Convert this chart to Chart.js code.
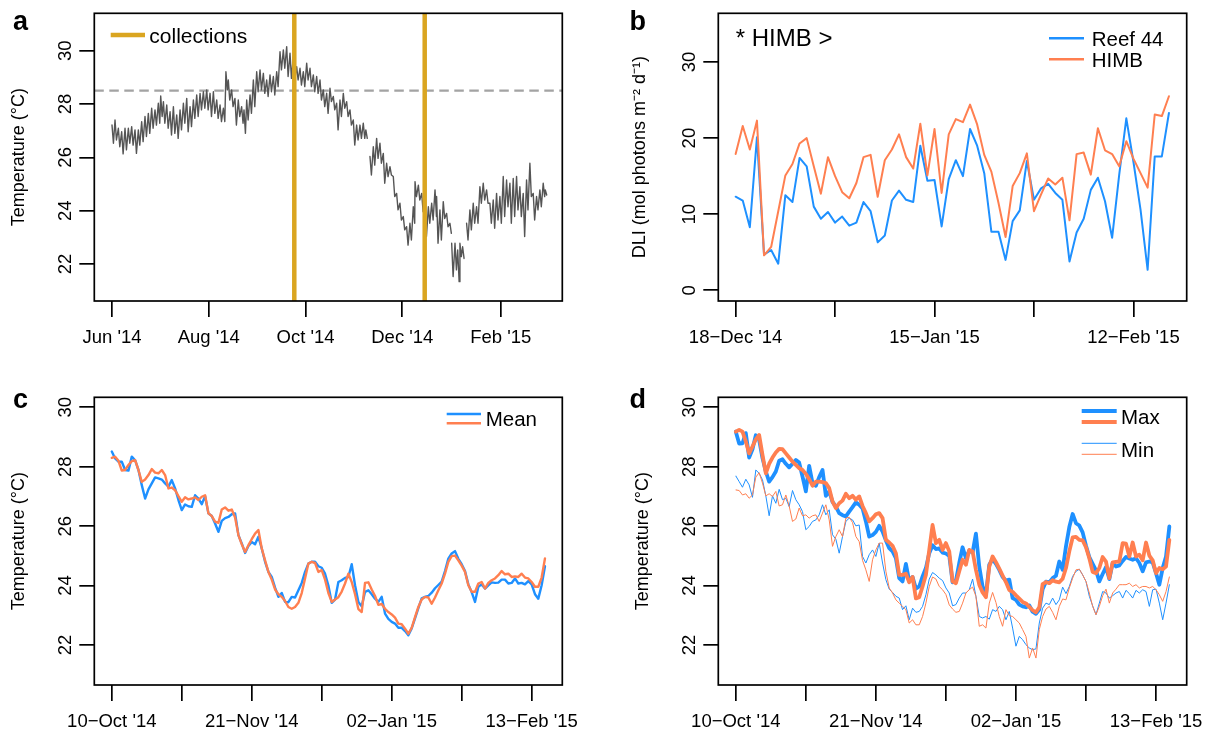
<!DOCTYPE html>
<html><head><meta charset="utf-8">
<script src="https://cdn.jsdelivr.net/npm/chart.js@4/dist/chart.umd.min.js"></script>
<style>
html,body{margin:0;padding:0;background:#fff;}
#wrap{position:relative;width:1209px;height:734px;overflow:hidden;background:#fff;}
canvas{position:absolute;left:0;top:0;}
</style></head><body>
<div id="wrap">
<canvas id="ca" width="1209" height="734"></canvas>
<canvas id="cb" width="1209" height="734"></canvas>
<canvas id="cc" width="1209" height="734"></canvas>
<canvas id="cd" width="1209" height="734"></canvas>
</div>
<script>
// ---------- Panel a: Reef 44 temperature record (days since 1 Jun 2014), envelope readings ----------
const tempDay = [0.0,1.9,4.0,6.1,8.2,10.3,12.4,14.5,16.6,18.7,20.8,22.9,25.0,27.1,29.2,30.7,32.4,34.5,36.6,38.7,40.8,42.9,45.0,47.1,49.2,51.3,53.4,55.5,57.6,59.7,61.8,63.9,66.0,68.1,70.2,71.8,73.3,75.4,77.5,79.6,81.7,83.2,84.9,87.0,89.1,91.2,93.3,95.4,97.5,99.6,101.7,103.8,105.9,108.0,110.1,112.2,114.3,116.4,118.5,120.6,122.7,124.8,126.9,129.0,131.1,133.2,135.3,137.4,139.5,141.6,143.7,145.8,147.9,150.0,152.1,154.2,156.3,158.4,160.0,null,162.6,164.7,166.8,168.9,171.0,173.1,175.2,177.3,179.4,181.5,183.6,185.7,187.8,189.9,191.0,193.1,195.2,197.3,199.4,201.5,203.6,204.6,206.7,208.8,210.9,213.0,null,214.1,216.2,217.9,219.3,221.0,null,223.5,225.6,227.7,229.8,231.9,234.0,236.1,238.2,240.3,242.4,244.5,246.6,248.7,250.8,252.9,255.0,257.1,259.2,261.3,263.4,265.5,267.6,269.7,271.8,273.1];
const tempHigh = [27.21,27.40,27.09,26.96,27.09,27.09,27.15,27.03,27.03,27.34,27.53,27.65,27.84,27.78,28.03,28.30,28.09,27.96,27.71,27.90,27.59,27.78,28.03,28.21,27.90,28.15,28.34,28.40,28.46,28.53,28.40,28.46,28.15,27.96,27.84,29.21,28.90,28.53,28.21,28.15,27.90,27.78,28.15,28.34,28.90,29.21,29.28,29.15,28.90,29.09,29.03,29.21,29.96,30.03,30.15,29.90,29.78,29.40,29.34,29.21,29.53,29.34,29.09,29.03,28.90,28.53,28.40,28.59,28.28,28.03,28.15,28.40,28.09,27.78,27.40,27.21,27.21,27.28,27.03,null,26.03,26.40,26.71,26.53,26.15,25.78,25.65,25.28,24.65,24.28,23.78,23.40,23.53,24.15,25.09,24.96,24.65,24.03,24.15,24.28,24.78,24.53,24.03,24.34,23.90,23.53,null,22.78,22.78,22.53,22.78,22.65,null,23.53,24.03,24.28,24.15,24.90,25.03,24.78,24.28,24.40,24.65,24.53,25.28,25.15,25.03,25.21,25.28,24.90,24.65,25.15,25.78,24.65,24.53,24.78,25.03,24.78];
const tempLow = [26.53,26.65,26.40,26.13,26.28,26.53,26.46,26.15,26.46,26.59,26.78,26.90,27.09,27.21,27.28,27.53,27.28,27.09,26.84,26.90,26.71,27.03,27.28,26.96,27.15,27.46,27.53,27.78,27.84,27.78,27.53,27.65,27.46,27.34,27.34,28.53,28.15,27.90,27.21,27.53,27.28,26.90,27.40,27.65,27.90,28.46,28.53,28.40,28.28,28.46,28.34,28.65,29.28,29.34,29.03,28.96,28.90,28.90,28.71,28.65,28.90,28.65,28.46,28.40,28.15,27.90,27.65,28.09,27.78,27.03,27.53,27.84,27.53,27.21,26.46,26.65,26.71,26.71,26.71,null,25.34,25.71,25.96,25.78,25.03,25.28,25.34,24.53,24.03,23.65,23.28,22.71,22.90,23.53,24.53,24.40,23.96,23.03,23.53,23.65,23.78,22.78,22.90,23.71,23.40,23.15,null,21.53,21.78,21.34,22.28,22.21,null,22.90,23.28,23.53,23.53,24.28,24.40,24.28,23.53,23.34,23.65,23.53,23.78,24.15,23.53,23.78,24.03,23.78,23.03,24.03,24.53,23.65,24.03,24.15,24.53,24.59];
const collectionDays = [114.9, 197.1];
const thresholdTemp = 28.5;
const aTickDays = [0, 61, 122, 183, 245];
const aTickLabels = ["Jun '14", "Aug '14", "Oct '14", "Dec '14", "Feb '15"];
const aYTicks = [22, 24, 26, 28, 30];

// ---------- Panel b: DLI, days since 18 Dec 2014 ----------
const dliReef44 = [12.3,11.8,8.3,20.1,4.7,5.3,3.5,12.5,11.6,17.4,16.3,11.0,9.4,10.3,8.9,9.7,8.5,8.9,11.6,10.4,6.3,7.2,11.8,13.1,11.9,11.6,19.0,14.4,14.5,8.4,14.6,17.1,15.0,21.2,19.0,15.4,7.7,7.7,4.0,9.1,10.5,17.0,11.9,13.4,14.0,12.8,11.9,3.8,7.6,9.4,13.2,14.8,11.7,6.9,15.2,22.6,16.9,10.6,2.7,17.6,17.6,23.3];
const dliHIMB = [17.9,21.6,18.5,22.3,4.6,5.7,10.4,15.1,16.6,19.3,20.0,16.3,12.7,17.5,15.0,12.9,12.1,14.1,17.5,17.8,12.3,17.1,18.5,20.5,17.5,16.0,21.9,15.1,21.2,12.8,20.5,22.5,22.1,24.4,21.8,17.8,15.6,11.5,7.0,13.7,15.4,18.0,10.4,12.6,14.7,13.9,14.8,9.2,17.9,18.1,15.2,21.3,18.4,17.9,16.3,19.6,17.3,15.4,13.5,23.1,22.9,25.5];
const bTickDays = [0, 14, 28, 42, 56];
const bTickLabels = ["18\u2212Dec '14", "", "15\u2212Jan '15", "", "12\u2212Feb '15"];
const bYTicks = [0, 10, 20, 30];

// ---------- Panel c: daily mean temperature, days since 10 Oct 2014 ----------
const meanReef44 = [28.51,28.28,28.17,28.17,27.89,27.87,28.34,28.22,27.89,27.38,
26.93,27.24,27.44,27.64,27.61,27.57,27.44,27.33,27.55,27.27,
26.88,26.54,26.73,26.67,26.65,27.04,26.93,26.74,27.01,26.43,
26.34,26.09,25.81,26.18,26.27,26.31,26.40,26.43,25.70,25.42,
25.10,25.33,25.47,25.39,25.64,25.25,24.80,24.46,24.29,23.93,
23.62,23.75,23.45,23.44,23.62,23.60,23.84,24.09,24.46,24.74,
24.80,24.80,24.65,24.60,24.40,24.00,23.42,23.53,24.12,24.18,
24.26,24.29,24.72,24.01,23.45,23.30,23.79,23.84,23.71,23.56,
23.45,23.62,23.06,22.88,22.78,22.72,22.58,22.58,22.47,22.33,
22.56,22.90,23.24,23.57,23.62,23.65,23.76,23.91,24.02,24.13,
24.49,24.91,25.08,25.16,24.90,24.72,24.49,24.04,23.78,23.45,
23.96,24.04,23.90,24.01,24.11,24.09,24.10,24.20,24.20,24.07,
24.09,24.24,24.07,24.09,24.04,24.15,24.04,23.71,23.56,24.01,
24.65];
const meanHIMB = [28.30,28.34,28.20,27.87,27.89,28.06,28.19,28.22,27.89,27.49,
27.57,27.72,27.92,27.80,27.78,27.89,27.72,27.27,27.30,27.21,
27.01,26.82,26.97,26.90,26.93,26.97,26.88,26.99,27.04,26.43,
26.34,26.15,26.11,26.56,26.63,26.52,26.56,26.29,25.70,25.39,
25.13,25.36,25.56,25.75,25.87,25.25,24.85,24.46,24.20,23.87,
23.71,23.62,23.48,23.28,23.22,23.28,23.42,23.75,24.24,24.74,
24.80,24.76,24.46,24.52,24.20,23.75,23.45,23.53,23.61,23.80,
24.07,24.40,24.12,23.71,23.21,23.11,24.09,24.11,23.87,23.65,
23.35,23.38,23.22,23.11,23.03,22.92,22.72,22.70,22.55,22.38,
22.58,22.94,23.28,23.53,23.62,23.60,23.39,23.60,23.84,24.07,
24.40,24.80,24.99,25.01,24.85,24.67,24.46,24.01,23.79,23.79,
24.07,24.12,23.90,24.09,24.18,24.24,24.35,24.49,24.38,24.40,
24.29,24.31,24.29,24.40,24.27,24.24,24.12,23.96,23.96,24.27,
24.91];

// ---------- Panel d: daily max / min temperature ----------
const maxReef44 = [29.18,28.78,28.79,29.13,28.31,28.59,29.06,28.90,28.29,27.84,
27.50,27.65,27.84,28.20,28.25,28.10,27.98,28.10,28.23,28.14,
27.67,27.17,28.03,27.45,27.36,27.65,27.89,27.02,27.17,26.82,
26.66,26.44,26.37,26.33,26.49,26.64,26.80,26.72,26.60,26.16,
25.65,25.70,25.81,26.01,25.82,25.52,25.26,25.15,24.92,24.25,
24.14,24.73,24.14,24.29,23.90,23.97,24.31,24.59,25.09,25.36,
25.23,25.25,25.11,25.08,25.00,24.11,24.16,24.76,25.29,24.92,
25.18,25.11,25.75,24.64,23.97,23.69,24.70,24.89,24.73,24.53,
24.29,24.17,24.20,23.58,23.52,23.36,23.30,23.27,23.33,23.12,
23.05,23.19,23.88,24.13,24.11,24.25,24.33,24.81,24.53,25.32,
25.97,26.41,26.10,26.02,25.79,25.34,24.96,24.73,24.51,24.14,
24.39,24.62,24.22,24.76,24.64,24.68,24.83,24.96,24.91,24.87,
24.92,24.76,24.48,24.78,24.81,24.78,24.42,24.03,24.59,24.98,
25.99];
const maxHIMB = [29.18,29.24,29.18,28.85,28.45,28.68,28.92,29.07,28.40,27.78,
28.10,28.31,28.48,28.60,28.59,28.45,28.31,28.17,28.06,27.95,
27.89,27.76,27.58,27.36,27.50,27.50,27.48,27.45,27.28,26.83,
26.61,26.77,26.86,27.09,26.94,27.02,26.89,27.00,26.68,26.44,
26.16,26.27,26.40,26.44,26.27,25.54,25.45,25.34,25.09,24.36,
24.36,24.40,24.11,24.29,23.57,23.61,23.97,24.36,25.20,26.04,
25.43,25.54,25.20,25.43,25.15,24.14,24.08,24.48,24.87,24.70,
25.20,25.15,24.53,24.03,23.77,23.61,24.64,24.98,24.79,24.57,
24.34,24.12,23.85,23.79,23.67,23.56,23.45,23.40,23.28,23.17,
23.10,23.27,24.05,24.12,24.08,24.18,24.13,24.11,24.23,24.59,
25.15,25.62,25.64,25.54,25.52,25.29,24.92,24.46,24.42,24.59,
24.96,24.81,24.25,24.78,24.80,24.81,25.43,25.41,24.98,25.45,
24.98,25.04,24.85,25.45,25.01,24.85,24.42,24.59,24.55,24.64,
25.54];
const minReef44 = [27.69,27.50,27.31,27.58,27.39,26.97,27.89,27.78,27.56,27.02,
26.35,27.02,26.77,27.24,26.89,26.94,26.66,27.20,26.89,26.72,
26.49,25.88,25.99,26.16,26.21,26.38,26.72,26.38,26.55,25.71,
25.56,25.09,25.65,26.16,26.27,26.21,26.01,26.04,24.98,24.76,
25.04,25.20,24.98,25.43,24.76,24.20,23.88,23.77,23.64,23.58,
23.19,23.32,22.85,23.24,23.10,23.13,23.30,23.69,24.22,24.44,
24.36,24.25,24.17,23.92,23.75,23.32,23.36,23.58,23.75,23.75,
23.86,24.22,23.64,22.96,22.91,22.96,22.87,23.19,23.13,23.30,
23.19,22.85,23.13,22.57,21.96,22.29,22.18,22.01,21.90,21.84,
21.87,22.74,23.24,23.41,23.36,23.58,23.36,23.52,23.95,23.73,
23.97,24.31,24.48,24.55,24.36,24.14,23.64,23.32,23.02,23.41,
23.80,23.75,23.58,23.66,23.75,23.80,23.58,23.84,23.73,23.58,
23.84,23.75,23.86,23.80,23.30,23.86,23.88,23.41,22.85,23.41,
24.03];
const minHIMB = [27.22,27.20,27.05,27.09,26.94,27.05,27.65,27.80,27.45,27.02,
27.09,27.00,27.17,26.68,26.72,27.05,26.68,26.16,26.24,26.61,
26.35,26.38,26.27,26.35,26.38,26.16,26.44,26.72,26.21,25.32,
25.65,25.88,25.65,26.27,26.30,26.12,25.65,25.48,24.85,24.53,
24.14,24.87,25.20,25.43,25.43,24.48,23.92,23.75,23.52,23.41,
23.30,23.19,22.74,22.85,22.68,22.68,22.96,23.41,23.97,24.29,
24.22,23.97,23.86,23.70,23.35,23.21,23.10,23.13,23.41,23.75,
23.86,23.95,23.64,22.63,22.68,22.57,23.41,23.77,23.43,22.96,
22.63,23.19,22.99,22.96,22.85,22.74,22.52,22.29,21.56,21.90,
21.56,22.52,22.96,23.21,23.30,23.10,22.85,23.30,23.55,23.52,
23.92,24.25,24.53,24.55,24.36,24.14,23.75,23.30,23.02,23.30,
23.66,23.88,23.41,23.75,23.88,24.03,24.03,24.03,24.08,23.97,
24.03,23.92,23.97,23.97,23.92,23.97,23.86,23.69,23.47,23.80,
24.29];
const cdTickDays = [0, 21, 42, 63, 84, 105, 126];
const cdTickLabels = ["10\u2212Oct '14", "", "21\u2212Nov '14", "", "02\u2212Jan '15", "", "13\u2212Feb '15"];
const cdYTicks = [22, 24, 26, 28, 30];

// ---------- styling ----------
const FONT = '"Liberation Sans", Arial, Helvetica, sans-serif';
const BLUE = '#1E90FF', ORANGE = '#FF7F50', GOLD = '#DAA520', GREY = '#555555', DASHGREY = '#a3a3a3';
Chart.defaults.font.family = FONT;
Chart.defaults.color = '#000';

const W = 1209, H = 734, YW = 94, XH = 49;

function xAxis(min, max, tickDays, tickLabels) {
  return {
    type: 'linear', position: 'bottom', min: min, max: max, bounds: 'data',
    afterBuildTicks: s => { s.ticks = tickDays.map(v => ({value: v})); },
    afterFit: s => { s.height = XH; s.paddingLeft = 0; s.paddingRight = 0; },
    ticks: { autoSkip: false, maxRotation: 0, minRotation: 0, padding: 10, color: '#000',
             font: {size: 18.5}, callback: (v, i) => tickLabels[i] },
    grid: { drawOnChartArea: false, drawTicks: true, tickLength: 16, color: '#000', lineWidth: 1.7 },
    border: { display: false }
  };
}
function yAxis(min, max, tickVals, title, titlePad) {
  return {
    type: 'linear', position: 'left', min: min, max: max, bounds: 'data',
    afterBuildTicks: s => { s.ticks = tickVals.map(v => ({value: v})); },
    afterFit: s => { s.width = YW; s.paddingTop = 0; s.paddingBottom = 0; },
    ticks: { minRotation: 90, maxRotation: 90, crossAlign: 'center', padding: 3, color: '#000',
             font: {size: 18.5}, callback: v => String(v) },
    grid: { drawOnChartArea: false, drawTicks: true, tickLength: 15, color: '#000', lineWidth: 1.7 },
    border: { display: false },
    title: { display: true, text: title, color: '#000', font: {size: 18}, padding: {top: titlePad, bottom: 0} }
  };
}
function line(points, color, width, extra) {
  return Object.assign({ data: points, borderColor: color, borderWidth: width, pointRadius: 0,
    fill: false, tension: 0, spanGaps: false, borderCapStyle: 'round', borderJoinStyle: 'round' }, extra || {});
}
const byDay = arr => arr.map((v, i) => ({x: i, y: v}));

const decoPlugin = {
  id: 'deco',
  afterDraw(chart, args, o) {
    const ctx = chart.ctx, a = chart.chartArea;
    ctx.save();
    ctx.strokeStyle = '#000'; ctx.lineWidth = 1.7;
    ctx.strokeRect(a.left, a.top, a.right - a.left, a.bottom - a.top);
    ctx.fillStyle = '#000'; ctx.textAlign = 'left'; ctx.textBaseline = 'alphabetic';
    ctx.font = 'bold 27px ' + FONT;
    ctx.fillText(o.letter, o.lx, o.ly);
    (o.lines || []).forEach(l => {
      ctx.strokeStyle = l.color; ctx.lineWidth = l.width; ctx.lineCap = 'butt';
      ctx.beginPath(); ctx.moveTo(l.x1, l.y); ctx.lineTo(l.x2, l.y); ctx.stroke();
    });
    (o.texts || []).forEach(t => {
      ctx.font = t.size + 'px ' + FONT; ctx.fillStyle = '#000';
      ctx.fillText(t.text, t.x, t.y);
    });
    ctx.restore();
  }
};

function makeChart(id, datasets, xs, ys, pad, deco) {
  return new Chart(document.getElementById(id), {
    type: 'line',
    data: { datasets: datasets },
    options: {
      responsive: false, maintainAspectRatio: false, devicePixelRatio: 1, animation: false, events: [],
      layout: { padding: pad, autoPadding: false },
      scales: { x: xs, y: ys },
      plugins: { legend: {display: false}, tooltip: {enabled: false}, deco: deco }
    },
    plugins: [decoPlugin]
  });
}

// ---------- Panel a ----------
const A_X = [-11.16, 283.83], A_Y = [20.615, 31.4];
const tempPts = [];
for (let i = 0; i < tempDay.length; i++) {
  if (tempDay[i] === null) { tempPts.push({x: tempDay[i - 1] + 1.2, y: null}); continue; }
  tempPts.push({x: tempDay[i], y: tempHigh[i]});
  tempPts.push({x: tempDay[i] + 0.9, y: tempLow[i]});
}
makeChart('ca', [
  ...collectionDays.map(d => line([{x: d, y: A_Y[0]}, {x: d, y: A_Y[1]}], GOLD, 4.5, {clip: 0, borderCapStyle: 'butt'})),
  line(tempPts, GREY, 1.4),
  line([{x: A_X[0], y: thresholdTemp}, {x: A_X[1], y: thresholdTemp}], DASHGREY, 2.2, {clip: 0, borderDash: [9.5, 5.5], borderCapStyle: 'butt'})
], xAxis(A_X[0], A_X[1], aTickDays, aTickLabels), yAxis(A_Y[0], A_Y[1], aYTicks, 'Temperature (\u00B0C)', 8),
{left: 94.3 - YW, top: 13.3, right: W - 562.3, bottom: H - 301 - XH},
{letter: 'a', lx: 13, ly: 30,
 lines: [{x1: 110.7, x2: 145, y: 35, color: GOLD, width: 4.5}],
 texts: [{text: 'collections', x: 149.3, y: 43.3, size: 21}]});

// ---------- Panel b ----------
makeChart('cb', [
  line(byDay(dliHIMB), ORANGE, 2),
  line(byDay(dliReef44), BLUE, 2)
], xAxis(-2.44, 63.5, bTickDays, bTickLabels), yAxis(-1.4, 36.4, bYTicks, 'DLI (mol photons m\u207B\u00B2 d\u207B\u00B9)', 5),
{left: 718.3 - YW, top: 13.3, right: W - 1186.7, bottom: H - 301 - XH},
{letter: 'b', lx: 629.5, ly: 30,
 lines: [{x1: 1049, x2: 1084, y: 38.3, color: BLUE, width: 2.5}, {x1: 1049, x2: 1084, y: 59.3, color: ORANGE, width: 2.5}],
 texts: [{text: 'Reef 44', x: 1091.7, y: 45.7, size: 20.5}, {text: 'HIMB', x: 1091.7, y: 66.7, size: 20.5},
         {text: '* HIMB >', x: 735.7, y: 45.7, size: 24}]});

// ---------- Panel c ----------
makeChart('cc', [
  line(byDay(meanHIMB), ORANGE, 2.4),
  line(byDay(meanReef44), BLUE, 2.4)
], xAxis(-5.25, 135.2, cdTickDays, cdTickLabels), yAxis(20.654, 30.337, cdYTicks, 'Temperature (\u00B0C)', 8.4),
{left: 94.3 - YW, top: 397.3, right: W - 562.3, bottom: H - 685 - XH},
{letter: 'c', lx: 13, ly: 408.3,
 lines: [{x1: 446.7, x2: 481, y: 414, color: BLUE, width: 2.5}, {x1: 446.7, x2: 481, y: 423.3, color: ORANGE, width: 2.5}],
 texts: [{text: 'Mean', x: 485.7, y: 425.7, size: 20.5}]});

// ---------- Panel d ----------
makeChart('cd', [
  line(byDay(minHIMB), ORANGE, 1),
  line(byDay(minReef44), BLUE, 1),
  line(byDay(maxHIMB), ORANGE, 3.8),
  line(byDay(maxReef44), BLUE, 3.8)
], xAxis(-5.25, 135.2, cdTickDays, cdTickLabels), yAxis(20.654, 30.337, cdYTicks, 'Temperature (\u00B0C)', 7.9),
{left: 718.3 - YW, top: 397.3, right: W - 1186.7, bottom: H - 685 - XH},
{letter: 'd', lx: 629.5, ly: 408.3,
 lines: [{x1: 1081.7, x2: 1116.7, y: 411, color: BLUE, width: 4}, {x1: 1081.7, x2: 1116.7, y: 422, color: ORANGE, width: 4},
         {x1: 1081.7, x2: 1116.7, y: 443.3, color: BLUE, width: 1}, {x1: 1081.7, x2: 1116.7, y: 454.3, color: ORANGE, width: 1}],
 texts: [{text: 'Max', x: 1121, y: 424, size: 20.5}, {text: 'Min', x: 1121, y: 456.7, size: 20.5}]});
</script>
</body></html>
